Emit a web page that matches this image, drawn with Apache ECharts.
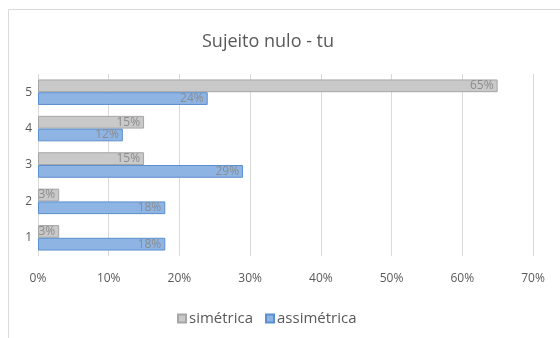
<!DOCTYPE html>
<html>
<head>
<meta charset="utf-8">
<script src="https://cdn.jsdelivr.net/npm/echarts@6/dist/echarts.min.js"></script>
<style>
  html, body { margin: 0; padding: 0; background: #fff; }
  #chart { width: 560px; height: 338px; }
</style>
</head>
<body>
<div id="chart"></div>
<script>
// categorias (de baixo para cima)
const categories = ['1', '2', '3', '4', '5'];
const simetrica = [3, 3, 15, 15, 65];
const assimetrica = [18, 18, 29, 12, 24];
const xTicks = [0, 10, 20, 30, 40, 50, 60, 70];

const chart = echarts.init(document.getElementById('chart'));
const textColor = '#595959';

const labelStyle = {
  show: true,
  position: 'insideRight',
  distance: 4,
  formatter: '{c}%',
  color: '#8c8c8c',
  fontSize: 12,
  fontFamily: 'Open Sans'
};

chart.setOption({
  animation: false,
  graphic: [
    {
      type: 'rect',
      shape: { x: 8.5, y: 9.5, width: 600, height: 400 },
      style: { fill: 'none', stroke: '#d9d9d9', lineWidth: 1 },
      silent: true
    }
  ],
  title: {
    text: 'Sujeito nulo - tu',
    left: 197,
    top: 28,
    textStyle: {
      color: textColor,
      fontSize: 18,
      fontWeight: 'normal',
      fontFamily: 'Open Sans'
    }
  },
  legend: {
    left: 172,
    top: 306,
    itemWidth: 8,
    itemHeight: 8,
    itemGap: 12,
    icon: 'rect',
    textStyle: { color: textColor, fontSize: 15, fontFamily: 'Open Sans', padding: [0, 0, 0, -2] },
    data: ['simétrica', 'assimétrica']
  },
  grid: { left: 38, right: 27, top: 74, bottom: 82, containLabel: false },
  xAxis: {
    type: 'value',
    min: xTicks[0],
    max: xTicks[xTicks.length - 1],
    interval: 10,
    axisLine: { show: false },
    axisTick: { show: false },
    splitLine: { lineStyle: { color: '#d9d9d9', width: 1 } },
    axisLabel: {
      formatter: '{value}%',
      color: textColor,
      fontSize: 12,
      fontFamily: 'Open Sans',
      margin: 17
    }
  },
  yAxis: {
    type: 'category',
    data: categories,
    axisLine: { show: false },
    axisTick: { show: false },
    axisLabel: { color: textColor, fontSize: 12, fontFamily: 'Open Sans', margin: 6 }
  },
  series: [
    {
      name: 'simétrica',
      type: 'bar',
      data: simetrica,
      barGap: '0%',
      barCategoryGap: '30%',
      itemStyle: { color: '#c9c9c9', borderColor: '#a6a6a6', borderWidth: 1 },
      label: labelStyle
    },
    {
      name: 'assimétrica',
      type: 'bar',
      data: assimetrica,
      barGap: '0%',
      barCategoryGap: '30%',
      itemStyle: { color: '#8eb4e3', borderColor: '#5b8fcf', borderWidth: 1 },
      label: labelStyle
    }
  ]
});
</script>
</body>
</html>
